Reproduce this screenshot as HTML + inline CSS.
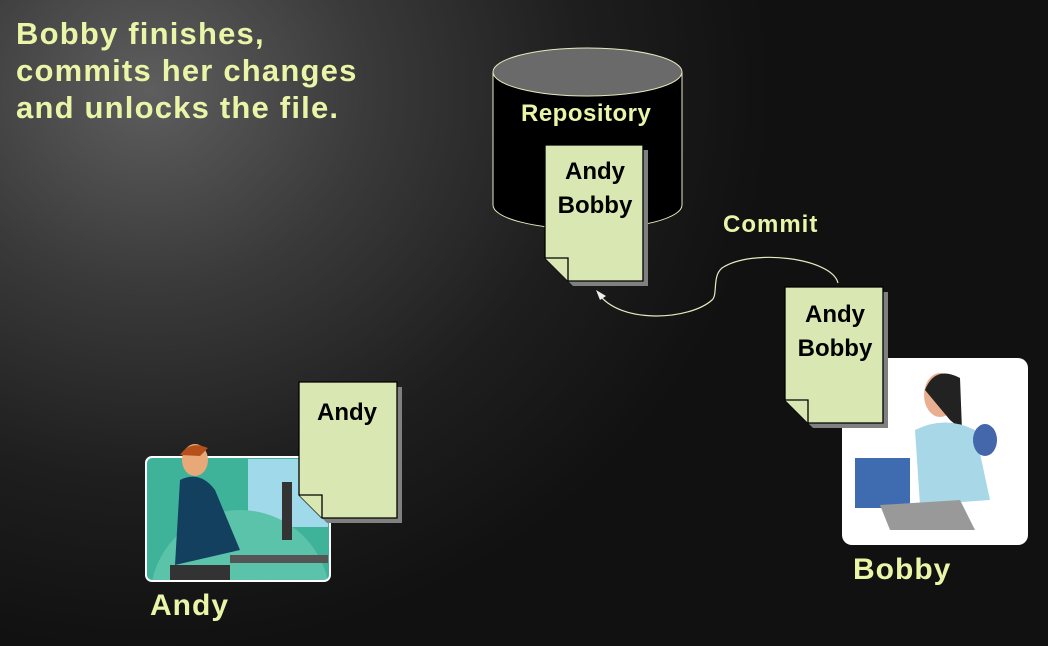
<!DOCTYPE html>
<html><head><style>
html,body{margin:0;width:1048px;height:646px;overflow:hidden;font-family:"Liberation Sans","DejaVu Sans",sans-serif}
#bg{position:absolute;left:0;top:0;width:1048px;height:646px;background:radial-gradient(ellipse 620px 560px at 150px 90px,#5e5e5e 0%,#3a3a3a 35%,#1e1e1e 70%,#111 100%)}
.t{position:absolute;color:#eaf5a8;font-weight:bold;line-height:1.1}
.d{position:absolute;color:#000;font-weight:bold;font-size:24px;text-align:center;line-height:34px}
svg{display:block}
</style></head><body>
<div id="bg"></div>
<svg width="1048" height="646" style="position:absolute;left:0;top:0">
<defs>
<g id="doc">
<path d="M5,5 L103,5 L103,141 L28,141 L5,118 Z" fill="#808080"/>
<path d="M0,0 L98,0 L98,136 L23,136 L0,113 Z" fill="#d9e8b2" stroke="#000" stroke-width="1.3"/>
<path d="M0,113 L23,113 L23,136" fill="#d9e8b2" stroke="#000" stroke-width="1.3"/>
</g>
<clipPath id="ac"><rect x="146" y="457" width="184" height="124" rx="6"/></clipPath>
</defs>
<path d="M493,72 L493,205 A94,24 0 0 0 682,205 L682,72" fill="#000" stroke="#e8e8c0" stroke-width="1"/>
<ellipse cx="587.5" cy="72" rx="94.5" ry="24" fill="#6a6a6a" stroke="#e8e8c0" stroke-width="1"/>
<use href="#doc" x="545" y="145"/>
<rect x="146" y="457" width="184" height="124" rx="6" fill="#3fb39a"/>
<g clip-path="url(#ac)">
<rect x="248" y="459" width="80" height="68" fill="#9fd9ea"/>
<circle cx="240" cy="600" r="90" fill="#5cc3ab"/>
<rect x="230" y="555" width="98" height="8" fill="#555"/>
<rect x="282" y="482" width="10" height="58" fill="#333"/>
<path d="M180,480 Q200,470 215,490 L240,550 L175,565 Z" fill="#13405e"/>
<rect x="170" y="565" width="60" height="16" fill="#333"/>
</g>
<rect x="146" y="457" width="184" height="124" rx="6" fill="none" stroke="#fff" stroke-width="2"/>
<ellipse cx="195" cy="460" rx="13" ry="16" fill="#e8a878"/>
<path d="M180,455 Q190,440 208,448 L200,456Z" fill="#b5501a"/>
<use href="#doc" x="299" y="382"/>
<rect x="842" y="358" width="186" height="187" rx="10" fill="#fff"/>
<ellipse cx="940" cy="395" rx="16" ry="22" fill="#e8b090"/>
<path d="M925,390 Q935,365 960,378 L962,430 L950,420Z" fill="#222"/>
<path d="M915,430 Q945,415 975,430 L990,500 L920,505Z" fill="#a8d8e8"/>
<rect x="855" y="458" width="55" height="50" fill="#3f6cb0"/>
<path d="M880,505 L960,500 L975,530 L890,530Z" fill="#999"/>
<ellipse cx="985" cy="440" rx="12" ry="16" fill="#4466aa"/>
<use href="#doc" x="785" y="287"/>
<path d="M838,283 C832,258 752,248 722,268 C712,276 718,295 712,300 C690,320 620,325 598,293" fill="none" stroke="#e8e8c0" stroke-width="1.2"/>
<path d="M596,290 L606,296 L600,300 Z" fill="#eee"/>
</svg>
<div class="t" style="left:16px;top:15px;font-size:31px;line-height:37px;letter-spacing:1.2px">Bobby finishes,<br>commits her changes<br>and unlocks the file.</div>
<div class="t" style="left:521px;top:101px;font-size:24px;letter-spacing:0.5px">Repository</div>
<div class="t" style="left:723px;top:212px;font-size:24px;letter-spacing:1px">Commit</div>
<div class="t" style="left:150px;top:589px;font-size:30px;letter-spacing:1px">Andy</div>
<div class="t" style="left:853px;top:553px;font-size:30px;letter-spacing:1px">Bobby</div>
<div class="d" style="left:545px;top:155px;width:100px">Andy<br>Bobby</div>
<div class="d" style="left:785px;top:298px;width:100px">Andy<br>Bobby</div>
<div class="d" style="left:297px;top:396px;width:100px">Andy</div>
</body></html>
